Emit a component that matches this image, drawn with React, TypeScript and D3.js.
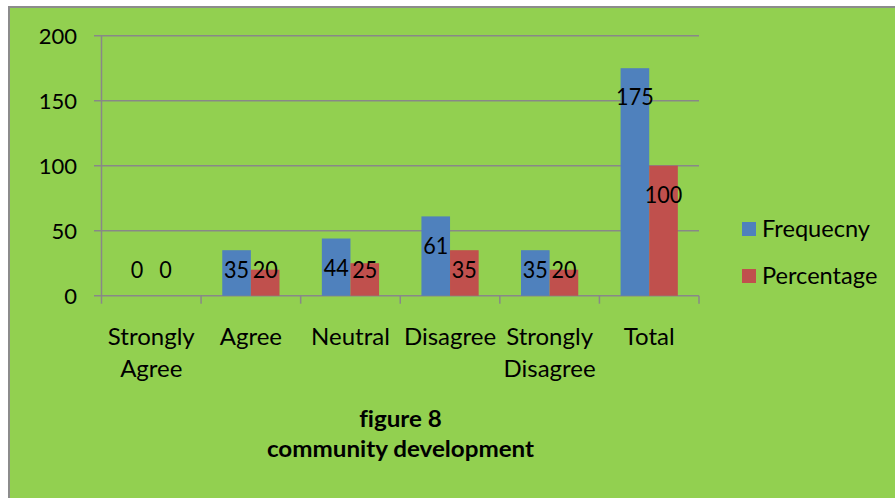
import React from "react";
import * as d3 from "d3";

const categories = ["Strongly Agree", "Agree", "Neutral", "Disagree", "Strongly Disagree", "Total"];
const categoryLines = [["Strongly", "Agree"], ["Agree"], ["Neutral"], ["Disagree"], ["Strongly", "Disagree"], ["Total"]];
const seriesNames = ["Frequecny", "Percentage"];
const frequency = [0, 35, 44, 61, 35, 175];
const percentage = [0, 20, 25, 35, 20, 100];
const yTicks = [0, 50, 100, 150, 200];
const titleLines = ["figure 8", "community development"];

const W = 895;
const H = 498;
const colors = ["#4F81BD", "#C0504D"];
const gridColor = "#888888";
const font = "Lato, 'Open Sans', sans-serif";

export default function App() {
  const x = d3.scaleBand<string>().domain(categories).range([101.5, 699]).paddingInner(0).paddingOuter(0);
  const xs = d3.scaleBand<string>().domain(seriesNames).range([0, x.bandwidth()]).paddingInner(0).paddingOuter(0.74);
  const y = d3.scaleLinear().domain([0, 200]).range([295.7, 35.7]);
  const values = [frequency, percentage];
  const boundaries = categories.map((c) => x(c) as number).concat([699]);

  return (
    <svg
      width={W}
      height={H}
      style={{ position: "absolute", left: 0, top: 0, background: "#fff", fontVariantLigatures: "none" }}
    >
      <rect x={9} y={7} width={W + 10} height={H + 10} fill="#92D050" stroke="#8C8C8C" strokeWidth={2} />
      {yTicks.map((t) => (
        <g key={t}>
          <line x1={94} x2={699} y1={y(t)} y2={y(t)} stroke={gridColor} strokeWidth={1.5} />
          <text x={77} y={y(t)} dy="0.36em" textAnchor="end" fontFamily={font} fontSize={22} fill="#000">
            {t}
          </text>
        </g>
      ))}
      <line x1={101.5} x2={101.5} y1={y(200)} y2={y(0)} stroke={gridColor} strokeWidth={1.5} />
      {boundaries.map((b, i) => (
        <line key={i} x1={b} x2={b} y1={y(0)} y2={y(0) + 8} stroke={gridColor} strokeWidth={1.5} />
      ))}
      {seriesNames.map((s, si) =>
        categories.map((c, ci) => {
          const v = values[si][ci];
          const bx = (x(c) as number) + (xs(s) as number);
          return (
            <rect key={s + c} x={bx} y={y(v)} width={xs.bandwidth()} height={y(0) - y(v)} fill={colors[si]} />
          );
        })
      )}
      {seriesNames.map((s, si) =>
        categories.map((c, ci) => {
          const v = values[si][ci];
          const cx = (x(c) as number) + (xs(s) as number) + xs.bandwidth() / 2;
          const cy = Math.min(y(v) + 28.5, 269);
          return (
            <text
              key={"l" + s + c}
              transform={`translate(${cx},${cy}) scale(0.9,1)`}
              dy="0.36em"
              textAnchor="middle"
              fontFamily={font}
              fontSize={24}
              fill="#000"
            >
              {v}
            </text>
          );
        })
      )}
      {categories.map((c, ci) => (
        <text key={"c" + c} textAnchor="middle" fontFamily={font} fontSize={24} fill="#000">
          {categoryLines[ci].map((ln, li) => (
            <tspan key={li} x={(x(c) as number) + x.bandwidth() / 2} y={345 + li * 32}>
              {ln}
            </tspan>
          ))}
        </text>
      ))}
      {seriesNames.map((s, si) => (
        <g key={"lg" + s}>
          <rect x={742} y={222 + si * 47} width={14} height={14} fill={colors[si]} />
          <text x={762} y={236.5 + si * 47} fontFamily={font} fontSize={23.6} fill="#000">
            {s}
          </text>
        </g>
      ))}
      {titleLines.map((t, i) => (
        <text
          key={t}
          transform={`translate(400.5,${427 + i * 29.5}) scale(1.1,1)`}
          textAnchor="middle"
          fontFamily={font}
          fontWeight="bold"
          fontSize={22}
          fill="#000"
        >
          {t}
        </text>
      ))}
    </svg>
  );
}
